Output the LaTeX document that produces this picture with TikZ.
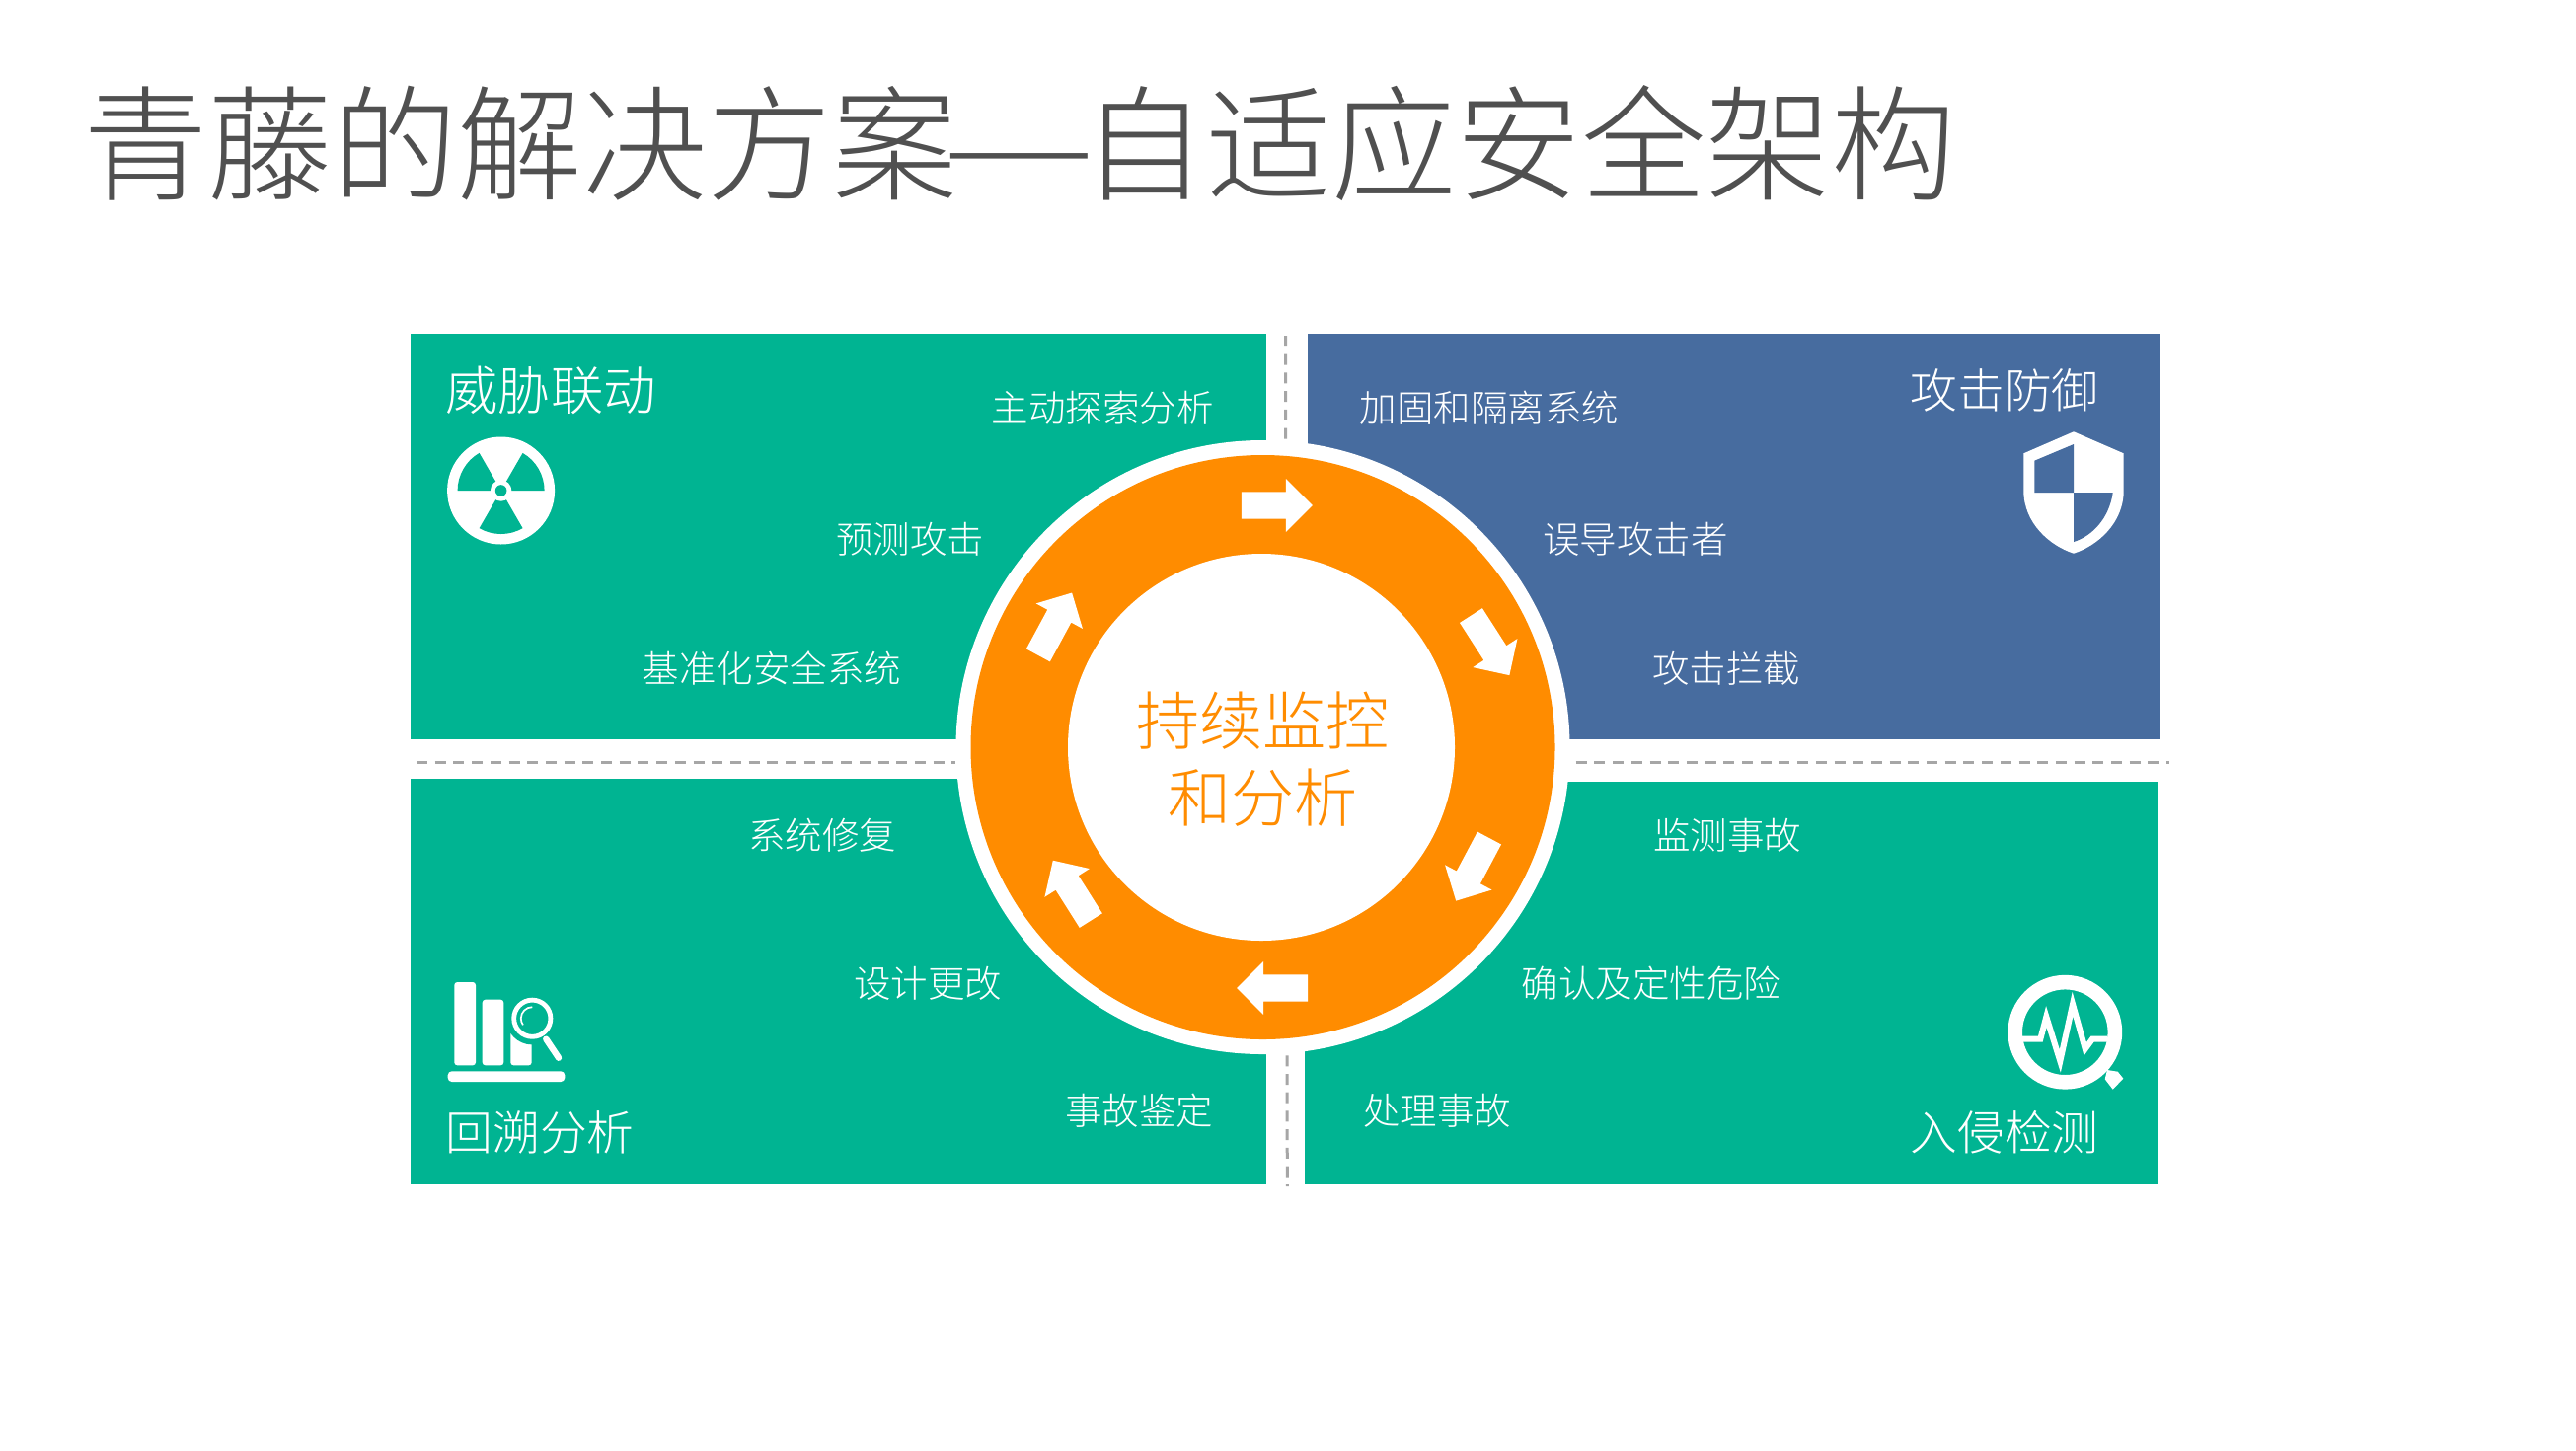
\documentclass[tikz,border=0pt]{standalone}
\usepackage{fontspec}
\usepackage{tikz}
\usetikzlibrary{shapes.arrows}
\newfontfamily\cjk{Noto Sans CJK SC Light}
\definecolor{tealbox}{HTML}{00B492}
\definecolor{bluebox}{HTML}{476C9F}
\definecolor{ringorange}{HTML}{FF8C00}
\definecolor{titlegray}{HTML}{505050}
\definecolor{dashgray}{HTML}{A6A6A6}
\tikzset
    {
        lab/.style = {text=white, inner sep=0pt, font=\cjk\fontsize{18.75pt}{22pt}\selectfont},
        head/.style = {text=white, inner sep=0pt, font=\cjk\fontsize{23.9pt}{28pt}\selectfont},
        turn/.style = {single arrow, fill=white, inner xsep=0pt, inner ysep=6.625pt, single arrow head extend=6.6pt,
                        single arrow tip angle=90, minimum height=36pt, rotate=#1},
        divider/.style = {draw=dashgray, line width=1.5pt, dash pattern=on 5.5pt off 3.85pt}
    }
\begin{document}
\begin{tikzpicture}[x=0.5pt, y=-0.5pt]
    \useasboundingbox (0,0) rectangle (2610,1469);
    \node [inner sep=0pt, text=titlegray, font=\cjk\fontsize{63.25pt}{70pt}\selectfont] (title) at (1033,145)
        {青藤的解决方案\makebox[1em]{\scalebox{1.38}[1]{—}}自适应安全架构};
    % four boxes
    \fill [tealbox] (416,338) rectangle (1283,749);
    \fill [bluebox] (1325,338) rectangle (2189,749);
    \fill [tealbox] (416,789) rectangle (1283,1200);
    \fill [tealbox] (1322,792) rectangle (2185.5,1200);
    % dashes between the boxes
    \coordinate (dl) at (422,772);
    \coordinate (dm) at (968,772);
    \coordinate (dn) at (1578,772);
    \coordinate (dr) at (2197.5,772);
    \coordinate (dt) at (1302.5,340);
    \coordinate (db) at (1304.3,1202);
    \draw [divider] (dl) -- (dm);
    \draw [divider] (dn) -- (dr);
    \draw [divider] (dt) -- (db);
    % ring
    \coordinate (ctr) at (1279.5,757);
    \coordinate (hole) at (1278,757);
    \fill [white] (ctr) circle (311);
    \fill [ringorange] (ctr) circle (296);
    \fill [white] (hole) circle (196);
    \node [turn=0] (a1) at (1287,512) {};
    \node [turn=-57.3] (a2) at (1506.2,648.1) {};
    \node [turn=-118] (a3) at (1495.3,874.8) {};
    \node [turn=180] (a4) at (1296,1001) {};
    \node [turn=122.3] (a5) at (1089.7,907.9) {};
    \node [turn=61.6] (a6) at (1065.7,638.2) {};
    \node [inner sep=0pt, text=ringorange, align=center, font=\cjk\fontsize{32.1pt}{39pt}\selectfont] (mid) at (1279.5,769) {持续监控\\和分析};
    % labels
    \node [head, font=\cjk\fontsize{26.7pt}{30pt}\selectfont] (h1) at (558,395) {威胁联动};
    \node [head] (h2) at (2031,395) {攻击防御};
    \node [head] (h3) at (547,1147) {回溯分析};
    \node [head] (h4) at (2031,1147) {入侵检测};
    \node [lab] (l1) at (1117,413) {主动探索分析};
    \node [lab] (l2) at (922,546) {预测攻击};
    \node [lab] (l3) at (782,677) {基准化安全系统};
    \node [lab] (l4) at (1509,413) {加固和隔离系统};
    \node [lab] (l5) at (1657,546) {误导攻击者};
    \node [lab] (l6) at (1749,677) {攻击拦截};
    \node [lab] (l7) at (833,846) {系统修复};
    \node [lab] (l8) at (940,996) {设计更改};
    \node [lab] (l9) at (1154,1125) {事故鉴定};
    \node [lab] (l10) at (1750,846) {监测事故};
    \node [lab] (l11) at (1673,996) {确认及定性危险};
    \node [lab] (l12) at (1456,1125) {处理事故};
    % radiation sign
    \coordinate (rad) at (507.6,497);
    \fill [white] (rad) circle (54.5);
    \foreach \a in {60,180,300}
        \fill [tealbox] (rad) -- ++(\a:44) arc (\a:\a+60:44) -- cycle;
    \fill [white] (rad) circle (10.7);
    \fill [tealbox] (rad) circle (5.8);
    % shield
    \fill [white] (2101,437.3) -- (2151.7,459.3) -- (2151.7,497)
        .. controls (2151.7,530) and (2125,553) .. (2101,560.7)
        .. controls (2077,553) and (2050.3,530) .. (2050.3,497)
        -- (2050.3,459.3) -- cycle;
    \fill [bluebox] (2101,450) -- (2061.3,466.7) -- (2061.3,499) -- (2101,499) -- cycle;
    \fill [bluebox] (2101,499) -- (2140.7,499)
        .. controls (2137,525) and (2120,543) .. (2101,549) -- cycle;
    % bars and lens
    \fill [white, rounded corners=1.5pt] (460.3,995) rectangle (482,1079.3);
    \fill [white, rounded corners=1.5pt] (488.7,1012.7) rectangle (510.3,1079.3);
    \fill [white, rounded corners=1.5pt] (517.3,1040) rectangle (538.7,1079.3);
    \fill [white, rounded corners=2pt] (453.7,1085.3) rectangle (572.3,1096);
    \coordinate (lens) at (539.3,1031.7);
    \fill [tealbox] (lens) circle (26.7);
    \draw [white, line width=2.4pt] (lens) circle (18.6);
    \draw [white, line width=0.85pt] (lens) ++(-90:11.5) arc (-90:-215:11.5);
    \draw [white, line width=3.2pt, line cap=round] (553.3,1052.7) -- (566,1071.7);
    % pulse lens
    \coordinate (pulse) at (2092.3,1045.7);
    \draw [white, line width=7.3pt] (pulse) circle (50.6);
    \fill [white] (2135,1084) -- (2145.7,1085.7) -- (2151.3,1092.7) -- (2140.7,1103.7) -- (2132.7,1093.3) -- cycle;
    \draw [white, line width=3pt, line join=miter] (2049,1052.7) -- (2067.3,1052.7) -- (2073.3,1030) -- (2087.3,1075)
        -- (2100,1017.3) -- (2112.7,1062.7) -- (2120,1052.7) -- (2135.7,1052.7);
\end{tikzpicture}
\end{document}
